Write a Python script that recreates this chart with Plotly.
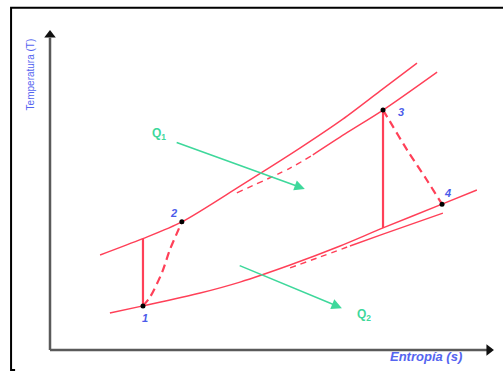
import plotly.graph_objects as go

# Brayton cycle on a T-s diagram (arbitrary units: s 0..10, T 0..10)

# cycle states
state_labels = ["1", "2", "3", "4"]
state_s = [2.08, 2.95, 7.45, 8.77]
state_T = [1.37, 3.98, 7.45, 4.53]

# isentropic end points (ideal compression / expansion)
ideal_2s = (2.08, 3.45)
ideal_4s = (7.45, 3.79)

# high-pressure isobar through 2
iso_high_s = [1.12, 2.06, 2.95, 4.25, 5.59, 6.55, 7.38, 8.21]
iso_high_T = [2.95, 3.45, 3.98, 5.09, 6.27, 7.17, 8.04, 8.91]

# combustor-exit isobar through 3 (dashed start, then solid)
iso_b_dash_s = [4.18, 5.37, 5.88]
iso_b_dash_T = [4.88, 5.65, 6.06]
iso_b_s = [5.88, 6.60, 7.45, 8.66]
iso_b_T = [6.06, 6.71, 7.45, 8.63]

# low-pressure isobar through 1 and 4
iso_low_s = [1.34, 2.08, 3.36, 4.25, 5.37, 6.49, 7.45, 8.77, 9.55]
iso_low_T = [1.15, 1.37, 1.77, 2.11, 2.64, 3.23, 3.79, 4.53, 4.97]

# turbine-exit isobar (dashed start, then solid)
iso_d_dash_s = [5.37, 6.04, 6.71]
iso_d_dash_T = [2.55, 2.89, 3.23]
iso_d_s = [6.71, 7.45, 8.79]
iso_d_T = [3.23, 3.60, 4.25]

# real compression 1 -> 2 and real expansion 3 -> 4
comp_s = [2.08, 2.24, 2.51, 2.68, 2.84, 2.95]
comp_T = [1.37, 1.65, 2.42, 3.11, 3.63, 3.98]
exp_s = [7.45, 7.56, 7.99, 8.43, 8.77]
exp_T = [7.45, 7.20, 6.21, 5.28, 4.53]

# heat flow arrows: (tail s, tail T, head s, head T)
q_in = (2.80, 6.46, 5.70, 5.00)
q_out = (4.21, 2.64, 6.53, 1.30)

RED = "#ff4058"
GREEN = "#3ed89b"
BLUE = "#4b5bea"
FONT = "Liberation Sans, Arial, sans-serif"

fig = go.Figure()


def line(xs, ys, width=1.4, dash="solid", color=RED, shape="spline"):
    fig.add_trace(go.Scatter(x=xs, y=ys, mode="lines", hoverinfo="skip",
                             line=dict(color=color, width=width, dash=dash,
                                       shape=shape, smoothing=0.8)))


# isobars
line(iso_high_s, iso_high_T)
line(iso_b_dash_s, iso_b_dash_T, dash="6px,5px")
line(iso_b_s, iso_b_T)
line(iso_low_s, iso_low_T)
line(iso_d_dash_s, iso_d_dash_T, dash="6px,5px")
line(iso_d_s, iso_d_T)

# ideal isentropic steps
line([state_s[0], ideal_2s[0]], [state_T[0], ideal_2s[1]], width=2.2, shape="linear")
line([state_s[2], ideal_4s[0]], [state_T[2], ideal_4s[1]], width=2.2, shape="linear")

# real compression / expansion
line(comp_s, comp_T, width=2.2, dash="8px,5px")
line(exp_s, exp_T, width=2.2, dash="8px,5px")

# state points
fig.add_trace(go.Scatter(x=state_s, y=state_T, mode="markers", hoverinfo="skip",
                         marker=dict(color="black", size=5)))

label_shift = {"1": (2, -12), "2": (-8, 9), "3": (18, -2), "4": (5, 11)}
for lab, s, t in zip(state_labels, state_s, state_T):
    dx, dy = label_shift[lab]
    fig.add_annotation(x=s, y=t, text=f"<b><i>{lab}</i></b>", showarrow=False,
                       xshift=dx, yshift=dy, xanchor="center", yanchor="middle",
                       font=dict(family=FONT, size=11, color=BLUE))

# axes with arrow heads
line([0, 0], [0, 9.7], width=2.5, color="#5a5a5a", shape="linear")
line([0, 9.8], [0, 0], width=2.5, color="#5a5a5a", shape="linear")
fig.add_trace(go.Scatter(x=[0], y=[9.78], mode="markers", hoverinfo="skip",
                         marker=dict(symbol="triangle-up", size=10, color="#111")))
fig.add_trace(go.Scatter(x=[9.82], y=[0], mode="markers", hoverinfo="skip",
                         marker=dict(symbol="triangle-right", size=10, color="#111")))

# heat arrows
for (ts, tt, hs, ht), text, lab_pos in [
    (q_in, "Q<sub>1</sub>", ("tail", -16, 8)),
    (q_out, "Q<sub>2</sub>", ("head", 22, -7)),
]:
    fig.add_annotation(x=hs, y=ht, ax=ts, ay=tt, xref="x", yref="y",
                       axref="x", ayref="y", showarrow=True, text="",
                       arrowhead=2, arrowsize=1.3, arrowwidth=1.6,
                       arrowcolor=GREEN)
    ax_, dx, dy = lab_pos
    px, py = (ts, tt) if ax_ == "tail" else (hs, ht)
    fig.add_annotation(x=px, y=py, text=f"<b>{text}</b>", showarrow=False,
                       xshift=dx, yshift=dy, xanchor="center", yanchor="middle",
                       font=dict(family=FONT, size=12, color=GREEN))

# axis titles
fig.add_annotation(x=0.06, y=0.80, xref="paper", yref="paper",
                   xanchor="center", yanchor="middle",
                   text="Temperatura (T)", textangle=-90, showarrow=False,
                   font=dict(family=FONT, size=10, color="#5565f0"))
fig.add_annotation(x=0.847, y=0.038, xref="paper", yref="paper",
                   xanchor="center", yanchor="middle",
                   text="<b><i>Entropía (s)</i></b>", showarrow=False,
                   font=dict(family=FONT, size=13, color="#5565f0"))

# outer frame (top and left edges)
fig.add_shape(type="path", xref="paper", yref="paper",
              path="M 1.05 0.979 L 0.022 0.979 L 0.022 0.003 L 0.03 0.003",
              line=dict(color="black", width=2))

fig.update_layout(
    width=503, height=371, margin=dict(l=0, r=0, t=0, b=0),
    paper_bgcolor="white", plot_bgcolor="white", showlegend=False,
    xaxis=dict(range=[-1.1186, 10.134], visible=False),
    yaxis=dict(range=[-0.652, 10.870], visible=False),
)

fig.write_html("out.html")
